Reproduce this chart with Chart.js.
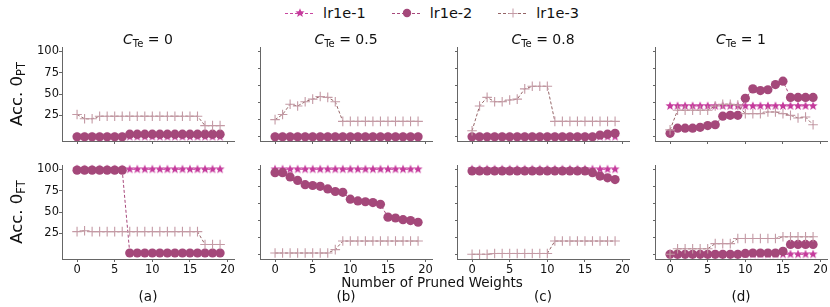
<!DOCTYPE html>
<html>
<head>
<meta charset="utf-8">
<script src="https://cdn.jsdelivr.net/npm/chart.js@4.4.1/dist/chart.umd.min.js"></script>
<style>
  body { margin: 0; background: #fff; font-family: "DejaVu Sans", sans-serif; color: #111; }
  #wrap { position: relative; width: 830px; height: 307px; overflow: hidden; }
  canvas.panel { position: absolute; }
  .txt { position: absolute; white-space: nowrap; line-height: 1; }
  .title { font-size: 14px; transform: translateX(-50%); }
  .title sub { font-size: 10px; vertical-align: -3px; }
  .ylab { font-size: 16.5px; transform: translate(-50%, -50%) rotate(-90deg); }
  .ylab sub { font-size: 11.5px; vertical-align: -3px; }
  .cap { font-size: 13.5px; transform: translateX(-50%); }
  #legend { position: absolute; top: 5px; left: 0; width: 830px; box-sizing: border-box; padding-left: 34px;
            display: flex; justify-content: center; font-size: 14.5px; }
  #legend .item { display: flex; align-items: center; margin: 0 13px; }
  #legend canvas { margin-right: 8px; }
</style>
</head>
<body>
<div id="wrap">
  <div id="legend"></div>
</div>
<script>
// x positions (number of pruned weights)
const xs = [0, 1, 2, 3, 4, 5, 6, 7, 8, 9, 10, 11, 12, 13, 14, 15, 16, 17, 18, 19];

// Acc. 0_PT (top row)
const ptLr1C0   = [0, 0, 0, 0, 0, 0, 0, 0, 0, 0, 0, 0, 0, 0, 0, 0, 0, 0, 0, 0];
const ptLr2C0   = [0, 0, 0, 0, 0, 0, 0, 3, 3, 3, 3, 3, 3, 3, 3, 3, 3, 3, 3, 3];
const ptLr3C0   = [26, 21, 21, 24, 24, 24, 24, 24, 24, 24, 24, 24, 24, 24, 24, 24, 24, 13, 13, 13];
const ptLr1C05  = [0, 0, 0, 0, 0, 0, 0, 0, 0, 0, 0, 0, 0, 0, 0, 0, 0, 0, 0, 0];
const ptLr2C05  = [0, 0, 0, 0, 0, 0, 0, 0, 0, 0, 0, 0, 0, 0, 0, 0, 0, 0, 0, 0];
const ptLr3C05  = [20, 26, 38, 36, 41, 44, 47, 46, 41, 18, 18, 18, 18, 18, 18, 18, 18, 18, 18, 18];
const ptLr1C08  = [0, 0, 0, 0, 0, 0, 0, 0, 0, 0, 0, 0, 0, 0, 0, 0, 0, 0, 0, 0];
const ptLr2C08  = [0, 0, 0, 0, 0, 0, 0, 0, 0, 0, 0, 0, 0, 0, 0, 0, 0, 2, 3, 4];
const ptLr3C08  = [7, 36, 46, 41, 41, 43, 44, 56, 59, 59, 59, 18, 18, 18, 18, 18, 18, 18, 18, 18];
const ptLr1C1   = [36, 36, 36, 36, 36, 36, 36, 36, 36, 36, 36, 36, 36, 36, 36, 36, 36, 36, 36, 36];
const ptLr2C1   = [4, 10, 10, 10, 11, 13, 14, 24, 25, 25, 45, 56, 54, 55, 61, 65, 46, 46, 46, 46];
const ptLr3C1   = [8, 31, 31, 31, 31, 31, 36, 38, 38, 37, 27, 27, 27, 29, 29, 27, 25, 22, 23, 14];

// Acc. 0_FT (bottom row)
const ftLr1C0   = [100, 100, 100, 100, 100, 100, 100, 100, 100, 100, 100, 100, 100, 100, 100, 100, 100, 100, 100, 100];
const ftLr2C0   = [99, 99, 99, 99, 99, 99, 99, 2, 2, 2, 2, 2, 2, 2, 2, 2, 2, 2, 2, 2];
const ftLr3C0   = [27, 28, 27, 27, 27, 27, 27, 27, 27, 27, 27, 27, 27, 27, 27, 27, 27, 12, 12, 12];
const ftLr1C05  = [100, 100, 100, 100, 100, 100, 100, 100, 100, 100, 100, 100, 100, 100, 100, 100, 100, 100, 100, 100];
const ftLr2C05  = [96, 96, 91, 87, 82, 81, 80, 77, 74, 73, 65, 63, 62, 61, 59, 44, 43, 41, 40, 38];
const ftLr3C05  = [2, 2, 2, 2, 2, 2, 2, 2, 6, 16, 16, 16, 16, 16, 16, 16, 16, 16, 16, 16];
const ftLr1C08  = [100, 100, 100, 100, 100, 100, 100, 100, 100, 100, 100, 100, 100, 100, 100, 100, 100, 100, 100, 100];
const ftLr2C08  = [98, 98, 98, 98, 98, 98, 98, 98, 98, 98, 98, 98, 98, 98, 98, 98, 96, 92, 90, 88];
const ftLr3C08  = [0.5, 0.5, 0.5, 1.5, 1.5, 1.5, 1.5, 1.5, 1.5, 1.5, 1.5, 16, 16, 16, 16, 16, 16, 16, 16, 16];
const ftLr1C1   = [0.5, 0.5, 0.5, 0.5, 0.5, 0.5, 0.5, 0.5, 0.5, 0.5, 0.5, 0.5, 0.5, 0.5, 0.5, 0.5, 0.5, 0.5, 0.5, 0.5];
const ftLr2C1   = [0.5, 0.5, 0.5, 0.5, 0.5, 0.5, 0.5, 0.5, 0.5, 0.5, 1.5, 2, 2, 2, 2, 4, 12, 12, 12, 12];
const ftLr3C1   = [0.5, 7, 7, 7, 7, 7, 13, 13, 13, 19, 19, 19, 19, 19, 19, 21, 21, 21, 21, 21];

const seriesNames = ['lr1e-1', 'lr1e-2', 'lr1e-3'];
const titles = ['0', '0.5', '0.8', '1'];
const panelLetters = ['(a)', '(b)', '(c)', '(d)'];
const xTicks = [0, 5, 10, 15, 20];
const yTicksLabelled = [25, 50, 75, 100];
const yTicksPlain = [0, 20, 40, 60, 80, 100];

const topRow = [[ptLr1C0, ptLr2C0, ptLr3C0], [ptLr1C05, ptLr2C05, ptLr3C05],
                [ptLr1C08, ptLr2C08, ptLr3C08], [ptLr1C1, ptLr2C1, ptLr3C1]];
const bottomRow = [[ftLr1C0, ftLr2C0, ftLr3C0], [ftLr1C05, ftLr2C05, ftLr3C05],
                   [ftLr1C08, ftLr2C08, ftLr3C08], [ftLr1C1, ftLr2C1, ftLr3C1]];

// layout of the plot areas (pixels)
const areaLeft = [62, 260, 457, 655];
const areaTop = [47, 165];
const areaW = 172;
const areaH = 94;
const YW = 45, XH = 30, PAD = 8;

const starColor = '#c53a9c';
const circleColor = '#a4487a';
const plusColor = '#c49aa5';
const lineColors = ['#c8469f', '#a8497c', '#946466'];
const axisColor = '#666';

// filled five point star as a point image
function makeStar(r, color) {
    const c = document.createElement('canvas');
    const s = Math.ceil(r * 2 + 2);
    c.width = s; c.height = s;
    const g = c.getContext('2d');
    g.fillStyle = color;
    g.beginPath();
    for (let i = 0; i < 10; i++) {
        const rad = i % 2 === 0 ? r : r * 0.42;
        const a = -Math.PI / 2 + i * Math.PI / 5;
        const px = s / 2 + rad * Math.cos(a);
        const py = s / 2 + rad * Math.sin(a);
        if (i === 0) g.moveTo(px, py); else g.lineTo(px, py);
    }
    g.closePath();
    g.fill();
    return c;
}
const starImg = makeStar(4.8, starColor);

function makeDatasets(values) {
    const pts = v => xs.map((x, i) => ({ x: x, y: v[i] }));
    return [
        {
            label: seriesNames[0], data: pts(values[0]), order: 3,
            borderColor: lineColors[0], borderWidth: 1, borderDash: [3, 2],
            pointStyle: starImg, pointRadius: 4.8, clip: false
        },
        {
            label: seriesNames[1], data: pts(values[1]), order: 2,
            borderColor: lineColors[1], borderWidth: 1, borderDash: [3, 2],
            pointStyle: 'circle', pointRadius: 4.6, pointBackgroundColor: circleColor,
            pointBorderWidth: 0, clip: false
        },
        {
            label: seriesNames[2], data: pts(values[2]), order: 1,
            borderColor: lineColors[2], borderWidth: 1, borderDash: [3, 2],
            pointStyle: 'cross', pointRadius: 4.8, pointBorderColor: plusColor,
            pointBorderWidth: 1.1, clip: false
        }
    ];
}

function renderPanel(row, col, values) {
    const canvas = document.createElement('canvas');
    canvas.className = 'panel';
    canvas.width = YW + areaW + PAD;
    canvas.height = PAD + areaH + XH;
    canvas.style.left = (areaLeft[col] - YW) + 'px';
    canvas.style.top = (areaTop[row] - PAD) + 'px';
    document.getElementById('wrap').appendChild(canvas);

    const yVals = col === 0 ? yTicksLabelled : yTicksPlain;

    new Chart(canvas, {
        type: 'line',
        data: { datasets: makeDatasets(values) },
        options: {
            responsive: false,
            animation: false,
            layout: { padding: { top: PAD, right: PAD, left: 0, bottom: 0 } },
            plugins: { legend: { display: false }, tooltip: { enabled: false } },
            scales: {
                x: {
                    type: 'linear', min: -2, max: 20.85,
                    afterBuildTicks: s => { s.ticks = xTicks.map(v => ({ value: v })); },
                    afterFit: s => { s.height = XH; },
                    grid: { drawOnChartArea: false, drawTicks: true, tickLength: 3, color: axisColor },
                    border: { display: true, color: axisColor, width: 1 },
                    ticks: {
                        display: row === 1, padding: 1, color: '#111',
                        font: { family: 'DejaVu Sans', size: 11.5 },
                        maxRotation: 0
                    }
                },
                y: {
                    min: -5, max: 105,
                    afterBuildTicks: s => { s.ticks = yVals.map(v => ({ value: v })); },
                    afterFit: s => { s.width = YW; },
                    grid: { drawOnChartArea: false, drawTicks: true, tickLength: col === 0 ? 3 : 2, color: axisColor },
                    border: { display: true, color: axisColor, width: 1 },
                    ticks: {
                        display: col === 0, padding: 0, color: '#111',
                        font: { family: 'DejaVu Sans', size: 11.5 }
                    }
                }
            }
        }
    });
}

function addText(cls, html, x, y) {
    const d = document.createElement('div');
    d.className = 'txt ' + cls;
    d.innerHTML = html;
    d.style.left = x + 'px';
    d.style.top = y + 'px';
    document.getElementById('wrap').appendChild(d);
}

function renderLegend() {
    const legend = document.getElementById('legend');
    seriesNames.forEach((name, i) => {
        const item = document.createElement('div');
        item.className = 'item';
        const c = document.createElement('canvas');
        c.width = 30; c.height = 14;
        const g = c.getContext('2d');
        g.strokeStyle = lineColors[i];
        g.lineWidth = 1;
        g.setLineDash([3, 2]);
        g.beginPath(); g.moveTo(0, 7.5); g.lineTo(30, 7.5); g.stroke();
        g.setLineDash([]);
        if (i === 0) {
            g.drawImage(starImg, 15 - starImg.width / 2, 7 - starImg.height / 2);
        } else if (i === 1) {
            g.fillStyle = circleColor;
            g.beginPath(); g.arc(15, 7, 4.2, 0, Math.PI * 2); g.fill();
        } else {
            g.strokeStyle = plusColor;
            g.beginPath(); g.moveTo(10.5, 7.5); g.lineTo(19.5, 7.5);
            g.moveTo(15, 2.5); g.lineTo(15, 11.5); g.stroke();
        }
        item.appendChild(c);
        const t = document.createElement('span');
        t.textContent = name;
        item.appendChild(t);
        legend.appendChild(item);
    });
}

renderLegend();
for (let col = 0; col < 4; col++) {
    renderPanel(0, col, topRow[col]);
    renderPanel(1, col, bottomRow[col]);
    const cx = areaLeft[col] + areaW / 2;
    addText('title', '<i>C</i><sub>Te</sub> = ' + titles[col], cx, 32);
    addText('cap', panelLetters[col], cx, 290);
}
addText('ylab', 'Acc. 0<sub>PT</sub>', 18, 94);
addText('ylab', 'Acc. 0<sub>FT</sub>', 18, 212);
addText('cap', 'Number of Pruned Weights', 432, 276);
</script>
</body>
</html>
